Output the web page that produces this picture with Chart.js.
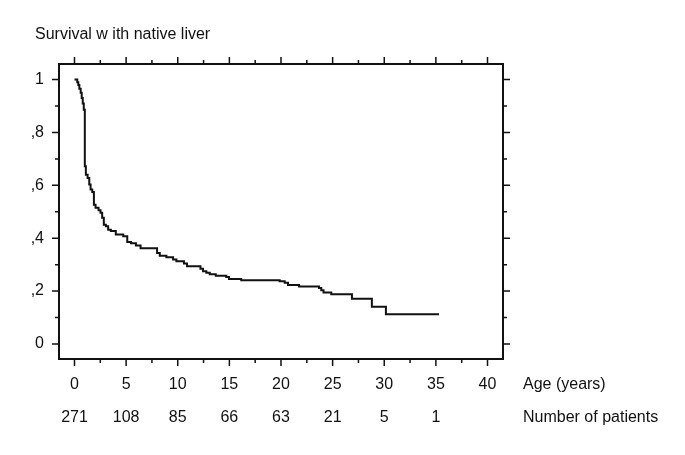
<!DOCTYPE html>
<html>
<head>
<meta charset="utf-8">
<script src="https://cdn.jsdelivr.net/npm/chart.js@4.4.1/dist/chart.umd.min.js"></script>
<style>
  body { margin: 0; background: #fff; }
  canvas { display: block; }
</style>
</head>
<body>
<canvas id="kmChart" width="685" height="455"></canvas>
<script>
// x axis: age in years, with number of patients at risk under each tick
const ageTicks = [0, 5, 10, 15, 20, 25, 30, 35, 40];
const ageMinorTicks = [2.5, 7.5, 12.5, 17.5, 22.5, 27.5, 32.5, 37.5];
const patientsAtRisk = ['271', '108', '85', '66', '63', '21', '5', '1', ''];

// y axis: survival proportion
const survTicks = [0, 0.2, 0.4, 0.6, 0.8, 1];
const survMinorTicks = [0.1, 0.3, 0.5, 0.7, 0.9];
const survTickLabels = ['0', ',2', ',4', ',6', ',8', '1'];

// Kaplan-Meier steps (time of step, survival after step)
const kmTimes = [0, 0.27, 0.37, 0.47, 0.6, 0.7, 0.8, 0.9, 1.0, 1.1, 1.27, 1.43, 1.56, 1.72, 1.88,
  2.04, 2.33, 2.52, 2.68, 2.84, 3.04, 3.26, 3.52, 4.0, 4.72, 5.11, 5.47, 5.95, 6.4,
  8.0, 8.26, 8.9, 9.55, 9.87, 10.6, 10.9, 12.2, 12.45, 12.77, 13.1, 13.68, 14.7, 14.96,
  16.15, 19.87, 20.36, 20.68, 21.75, 23.68, 23.9, 24.12, 24.87, 26.87, 28.8, 30.16, 35.3];
const kmSurvival = [1.0, 0.99, 0.98, 0.965, 0.95, 0.93, 0.91, 0.886, 0.672, 0.64, 0.628, 0.603, 0.584, 0.575, 0.527,
  0.515, 0.506, 0.496, 0.477, 0.451, 0.445, 0.432, 0.427, 0.414, 0.407, 0.386, 0.381, 0.372, 0.362,
  0.344, 0.334, 0.328, 0.319, 0.313, 0.304, 0.294, 0.284, 0.275, 0.269, 0.264, 0.258, 0.253, 0.246,
  0.241, 0.237, 0.231, 0.223, 0.217, 0.212, 0.203, 0.195, 0.188, 0.171, 0.141, 0.112, 0.112];

const fontFamily = '"Liberation Sans", Arial, sans-serif';
const ink = '#111';

// frame, outward ticks on all four sides, title and row captions
const framePlugin = {
  id: 'frame',
  afterDraw(chart) {
    const ctx = chart.ctx;
    const area = chart.chartArea;
    const xs = chart.scales.x;
    const ys = chart.scales.y;
    ctx.save();
    ctx.strokeStyle = ink;
    ctx.lineWidth = 2;
    ctx.strokeRect(area.left, area.top, area.right - area.left, area.bottom - area.top);

    ctx.lineWidth = 1.5;
    ctx.beginPath();
    const xTick = (v, len) => {
      const px = xs.getPixelForValue(v);
      ctx.moveTo(px, area.bottom); ctx.lineTo(px, area.bottom + len);
      ctx.moveTo(px, area.top); ctx.lineTo(px, area.top - len);
    };
    const yTick = (v, len) => {
      const py = ys.getPixelForValue(v);
      ctx.moveTo(area.left, py); ctx.lineTo(area.left - len, py);
      ctx.moveTo(area.right, py); ctx.lineTo(area.right + len, py);
    };
    ageTicks.forEach(v => xTick(v, 7));
    ageMinorTicks.forEach(v => xTick(v, 4));
    survTicks.forEach(v => yTick(v, 7));
    survMinorTicks.forEach(v => yTick(v, 4));
    ctx.stroke();

    ctx.fillStyle = ink;
    ctx.font = '16px ' + fontFamily;
    ctx.textAlign = 'left';
    ctx.textBaseline = 'alphabetic';
    ctx.fillText('Survival w ith native liver', 35, 39);
    ctx.textBaseline = 'middle';
    ctx.fillText('Age (years)', area.right + 20, area.bottom + 25.5);
    ctx.fillText('Number of patients', area.right + 20, area.bottom + 58.5);
    ctx.restore();
  }
};

const ctx = document.getElementById('kmChart').getContext('2d');
const kmChart = new Chart(ctx, {
  type: 'line',
  data: {
    datasets: [{
      data: kmTimes.map((t, i) => ({ x: t, y: kmSurvival[i] })),
      stepped: true,
      borderColor: ink,
      borderWidth: 2,
      pointRadius: 0,
      fill: false
    }]
  },
  options: {
    responsive: false,
    animation: false,
    devicePixelRatio: 1,
    layout: { padding: { left: 0, top: 64, right: 182, bottom: 0 } },
    plugins: { legend: { display: false }, tooltip: { enabled: false } },
    scales: {
      x: {
        type: 'linear',
        min: -1.5,
        max: 41.5,
        afterBuildTicks: s => { s.ticks = ageTicks.map(v => ({ value: v })); },
        afterFit: s => { s.height = 96; },
        grid: { display: false, drawTicks: false },
        border: { display: false },
        ticks: {
          padding: 9,
          maxRotation: 0,
          autoSkip: false,
          color: ink,
          font: { family: fontFamily, size: 16, lineHeight: 2.0625 },
          callback: (v, i) => [String(v), patientsAtRisk[i]]
        }
      },
      y: {
        type: 'linear',
        min: -0.057,
        max: 1.059,
        afterBuildTicks: s => { s.ticks = survTicks.map(v => ({ value: v })); },
        afterFit: s => { s.width = 59; },
        grid: { display: false, drawTicks: false },
        border: { display: false },
        ticks: {
          padding: 15,
          autoSkip: false,
          color: ink,
          font: { family: fontFamily, size: 16 },
          callback: (v, i) => survTickLabels[i]
        }
      }
    }
  },
  plugins: [framePlugin]
});
</script>
</body>
</html>
